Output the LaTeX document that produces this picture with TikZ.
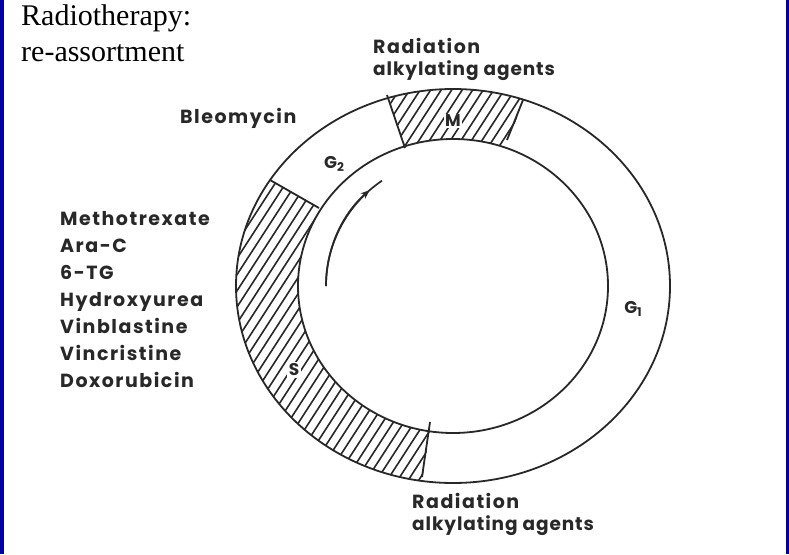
\documentclass[tikz,border=0pt]{standalone}
\usepackage{fontspec}
\setmainfont{Liberation Serif}
\newfontfamily\lab{Poppins}[LetterSpace=8]
\newfontfamily\labtight{Poppins}[LetterSpace=5]
\newfontfamily\labph{Poppins}
\usetikzlibrary{calc,arrows.meta}
\definecolor{bord}{RGB}{0,0,160}
\definecolor{ink}{RGB}{40,40,40}
\begin{document}
\begin{tikzpicture}[x=1pt,y=-1pt,
  ring/.style={draw=ink,line width=1.8pt},
  hatchline/.style={draw=ink,line width=1.6pt},
  lbl/.style={font=\lab\fontsize{19}{22}\selectfont\bfseries, text=ink, inner sep=0pt, anchor=base west},
  lbltight/.style={font=\labtight\fontsize{18.5}{22}\selectfont\bfseries, text=ink, inner sep=0pt, anchor=base west},
  phase/.style={font=\labph\fontsize{17}{17}\selectfont\bfseries, text=ink, inner sep=1.5pt, fill=white},
  gphase/.style={font=\labph\fontsize{17}{17}\selectfont\bfseries, text=ink, inner sep=1pt},
  title/.style={font=\fontsize{30}{36}\selectfont, anchor=base west, inner sep=0pt}]
\useasboundingbox (0,0) rectangle (789,554);
\fill[white] (0,0) rectangle (789,554);
\fill[bord] (0,0) rectangle (4,554);
\fill[bord] (786,0) rectangle (789,554);

\coordinate (C) at (453,286);
\coordinate (Mlo) at (387,95);  \coordinate (Mli) at (405,148);
\coordinate (Mro) at (523,100); \coordinate (Mri) at (507,140);
\coordinate (Go) at (270,180);  \coordinate (Gi) at (319,208);
\coordinate (So) at (422,477);  \coordinate (Si) at (430,422);

% hatch M
\begin{scope}
\clip (C) ellipse[x radius=217,y radius=197];
\clip (C) -- ($(Mli)!2!(Mlo)$) -- ($(Mri)!2!(Mro)$) -- cycle;
\foreach \a in {0,10.5,...,600} \draw[hatchline] (\a,560) -- ++(363,-560);
\end{scope}
% hatch S
\begin{scope}
\clip (C) ellipse[x radius=217,y radius=197];
\clip (C) -- ($(Gi)!2!(Go)$) -- (100,152) -- (100,600) -- ($(Si)!2!(So)$) -- cycle;
\foreach \a in {-200,-189.5,...,500} \draw[hatchline] (\a,560) -- ++(363,-560);
\end{scope}
\fill[white] (C) ellipse[x radius=155,y radius=147];

\draw[ring] (C) ellipse[x radius=217,y radius=197];
\draw[ring] (C) ellipse[x radius=155,y radius=147];
\draw[ring] (Mlo) -- (Mli);
\draw[ring] (Mro) -- (Mri);
\draw[ring] (Go) -- (Gi);
\draw[ring] (So) -- (Si);

% cycle arrow
\draw[draw=ink,line width=1.7pt] (326,286) arc[start angle=180,end angle=236,radius=127];
\draw[draw=ink,line width=1.7pt,-{Stealth[length=9pt,width=7pt]}] (326,286) arc[start angle=180,end angle=229,radius=127];

\node[title] (t1) at (21,25) {Radiotherapy:};
\node[title] (t2) at (21,61) {re-assortment};

\node[lbl] (rt1) at (373,53) {Radiation};
\node[lbltight] (rt2) at (373,75) {alkylating agents};
\node[lbl] (bleo) at (180,123) {Bleomycin};
\node[lbl] (d1) at (60,225) {Methotrexate};
\node[lbl] (d2) at (60,252) {Ara-C};
\node[lbl] (d3) at (60,279) {6-TG};
\node[lbl] (d4) at (60,306) {Hydroxyurea};
\node[lbl] (d5) at (60,333) {Vinblastine};
\node[lbl] (d6) at (60,360) {Vincristine};
\node[lbl] (d7) at (60,387) {Doxorubicin};
\node[lbl] (rb1) at (412,508) {Radiation};
\node[lbltight] (rb2) at (412,530) {alkylating agents};

\node[phase] (M) at (453,121) {M};
\node[phase] (S) at (294,370) {S};
\node[gphase] (G2) at (334,164) {G\raisebox{-0.35ex}{\fontsize{12}{12}\selectfont 2}};
\node[gphase] (G1) at (633,309) {G\raisebox{-0.35ex}{\fontsize{12}{12}\selectfont 1}};
\end{tikzpicture}
\end{document}
